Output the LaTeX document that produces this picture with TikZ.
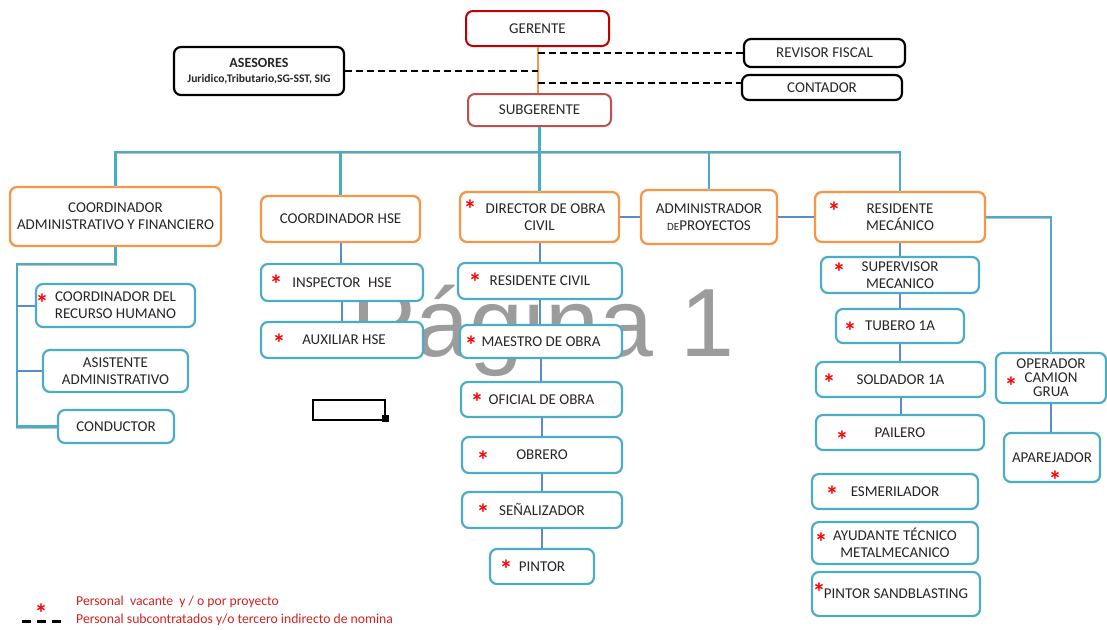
\documentclass[tikz,border=0pt]{standalone}
\usepackage{fontspec}
\setmainfont{Carlito}
\newfontfamily\wmfont{Liberation Sans}
\definecolor{boxorange}{HTML}{F79646}
\definecolor{boxteal}{HTML}{4BACC6}
\definecolor{linkblue}{HTML}{5A8AD0}
\definecolor{headred}{HTML}{C00000}
\definecolor{subred}{HTML}{C0504D}
\definecolor{labeltext}{HTML}{262626}
\definecolor{legendred}{HTML}{D42020}
\definecolor{markgray}{HTML}{9C9C9C}
\begin{document}
\begin{tikzpicture}[x=1pt,y=-1pt,
  basebox/.style={rounded corners=7pt, fill=white, line width=2pt, align=center,
    inner sep=0pt, text=labeltext, font=\fontsize{15}{16.8}\selectfont},
  redbox/.style={basebox, draw=headred},
  subbox/.style={basebox, draw=subred},
  blackbox/.style={basebox, draw=black, line width=2.2pt},
  orangebox/.style={basebox, draw=boxorange, line width=2.3pt},
  tealbox/.style={basebox, draw=boxteal, line width=2.2pt},
  bus/.style={draw=boxteal, line width=2.6pt,
    preaction={draw=black!25, line width=2.6pt, transform canvas={yshift=-0.9pt}}},
  col/.style={draw=linkblue, line width=2pt},
  orgline/.style={draw=boxorange, line width=2pt},
  extern/.style={draw=black, line width=2.2pt, dash pattern=on 7pt off 4pt},
  vac/.style={text=red, font=\fontsize{26}{26}\selectfont\bfseries, inner sep=0pt,
    anchor=base, yshift=-13.7pt},
  legend/.style={text=legendred, font=\fontsize{13.7}{15}\selectfont, inner sep=0pt,
    anchor=base west},
  watermark/.style={text=markgray, font=\wmfont\fontsize{97}{97}\selectfont,
    inner sep=0pt, anchor=base west}
]
\useasboundingbox (0,0) rectangle (1107,629);

% page watermark behind the chart
\node[watermark] (wmk) at (351,356) {Página 1};

% top management
\node[redbox, minimum width=143pt, minimum height=35pt] (ger) at (537.5,28.5) {GERENTE};
\node[subbox, minimum width=143pt, minimum height=32pt] (sub) at (539.5,110) {SUBGERENTE};
\node[blackbox, minimum width=170pt, minimum height=48pt] (ase) at (259,71)
  {{\bfseries\fontsize{14}{15}\selectfont ASESORES}\\[-2pt]
   {\bfseries\fontsize{11.6}{12}\selectfont Juridico,Tributario,SG-SST, SIG}};
\node[blackbox, minimum width=161pt, minimum height=28pt] (rf) at (824.5,53) {REVISOR FISCAL};
\node[blackbox, minimum width=160pt, minimum height=25pt] (ct) at (822,87.5) {CONTADOR};

% second level
\node[orangebox, minimum width=211pt, minimum height=59pt] (caf) at (115.5,216.5)
  {COORDINADOR\\ADMINISTRATIVO Y FINANCIERO};
\node[orangebox, minimum width=159pt, minimum height=46pt] (hse) at (340.5,219) {COORDINADOR HSE};
\node[orangebox, minimum width=159pt, minimum height=50pt] (dir) at (539.5,217)
  {\hspace*{12pt}DIRECTOR DE OBRA\\CIVIL};
\node[orangebox, minimum width=136pt, minimum height=54pt] (adm) at (709,217)
  {ADMINISTRADOR\\{\fontsize{11}{12}\selectfont DE}PROYECTOS};
\node[orangebox, minimum width=170pt, minimum height=50pt] (rm) at (900,217)
  {RESIDENTE\\MECÁNICO};

% administrative branch
\node[tealbox, minimum width=159pt, minimum height=43pt] (crh) at (115.5,305.5)
  {COORDINADOR DEL\\RECURSO HUMANO};
\node[tealbox, minimum width=145pt, minimum height=42pt] (asi) at (115.5,371)
  {ASISTENTE\\ADMINISTRATIVO};
\node[tealbox, minimum width=116pt, minimum height=33pt] (cond) at (116,426.5) {CONDUCTOR};

% HSE branch
\node[tealbox, minimum width=162pt, minimum height=37pt] (insp) at (342,282.5) {INSPECTOR\hspace{0.5em}HSE};
\node[tealbox, minimum width=162pt, minimum height=36pt] (aux) at (342,340) {\hspace*{4pt}AUXILIAR HSE};

% civil works branch
\node[tealbox, minimum width=164pt, minimum height=36pt] (rc) at (540,281) {RESIDENTE CIVIL};
\node[tealbox, minimum width=162pt, minimum height=33pt] (mo) at (541,341.5) {MAESTRO DE OBRA};
\node[tealbox, minimum width=161pt, minimum height=35pt] (of) at (541.5,399.5) {OFICIAL DE OBRA};
\node[tealbox, minimum width=160pt, minimum height=36pt] (ob) at (542,455) {OBRERO};
\node[tealbox, minimum width=160pt, minimum height=36pt] (se) at (542,510) {SEÑALIZADOR};
\node[tealbox, minimum width=104pt, minimum height=35pt] (pin) at (542,566.5) {PINTOR};

% mechanical branch
\node[tealbox, minimum width=158pt, minimum height=36pt] (sup) at (900,275) {SUPERVISOR\\MECANICO};
\node[tealbox, minimum width=128pt, minimum height=34pt] (tub) at (900,326) {TUBERO 1A};
\node[tealbox, minimum width=169pt, minimum height=35pt] (sol) at (900.5,379.5) {SOLDADOR 1A};
\node[tealbox, minimum width=168pt, minimum height=35pt] (pai) at (900,432.5) {PAILERO};
\node[tealbox, minimum width=166pt, minimum height=35pt] (esm) at (895,491.5) {ESMERILADOR};
\node[tealbox, minimum width=166pt, minimum height=42pt] (ayu) at (895,543)
  {AYUDANTE TÉCNICO\\METALMECANICO};
\node[tealbox, minimum width=168pt, minimum height=44pt] (psb) at (896,594) {PINTOR SANDBLASTING};
\node[tealbox, minimum width=110pt, minimum height=50pt,
  font=\fontsize{15}{14}\selectfont] (op) at (1051,378) {OPERADOR\\CAMION\\GRUA};
\node[tealbox, minimum width=96pt, minimum height=49pt] (apa) at (1052,457.5) {APAREJADOR};

% connectors
\coordinate (busy) at (0,152);
\coordinate (lk) at (17,264);
\coordinate (ctin) at ([yshift=4.5pt]ct.west);
\draw[orgline] (ger.south) -- (ger.south |- sub.north);
\draw[extern] (ase.east) -- (ase.east -| ger.south);
\draw[extern] (rf.west -| ger.south) -- (rf.west);
\draw[extern] (ctin -| ger.south) -- (ctin);

\draw[bus] (sub.south) -- (sub.south |- busy);
\draw[bus] (caf.north) -- (caf.north |- busy) -- (rm.north |- busy) -- (rm.north);
\draw[bus] (hse.north) -- (hse.north |- busy);
\draw[bus] (dir.north) -- (dir.north |- busy);
\draw[bus] (adm.north) -- (adm.north |- busy);

\draw[bus] (caf.south) -- (caf.south |- lk) -- (lk) -- (lk |- cond.west) -- (cond.west);
\draw[col] (lk |- crh.west) -- (crh.west);
\draw[col] (lk |- asi.west) -- (asi.west);

\draw[col] (hse.south) -- (hse.south |- insp.north);
\draw[col] (insp.south) -- (aux.north);

\draw[col] (dir.east) -- (adm.west);
\draw[col] (adm.east) -- (rm.west);

\draw[col] (dir.south) -- (dir.south |- rc.north);
\draw[col] (rc.south) -- (rc.south |- mo.north);
\draw[col] (mo.south) -- (mo.south |- of.north);
\draw[col] (of.south) -- (of.south |- ob.north);
\draw[col] (ob.south) -- (ob.south |- se.north);
\draw[col] (se.south) -- (se.south |- pin.north);

\draw[col] (rm.south) -- (rm.south |- sup.north);
\draw[col] (sup.south) -- (sup.south |- tub.north);
\draw[col] (tub.south) -- (tub.south |- sol.north);
\draw[col] (sol.south) -- (sol.south |- pai.north);

\draw[bus] (rm.east) -| (op.north);
\draw[col] (op.south) -- (op.south |- apa.north);

% vacancy marks
\node[vac] (v1) at (470,205) {*};
\node[vac] (v2) at (834,207) {*};
\node[vac] (v3) at (42,299) {*};
\node[vac] (v4) at (276,280) {*};
\node[vac] (v5) at (279,339) {*};
\node[vac] (v6) at (475,278) {*};
\node[vac] (v7) at (471,341) {*};
\node[vac] (v8) at (477,398) {*};
\node[vac] (v9) at (483,456) {*};
\node[vac] (v10) at (483,509) {*};
\node[vac] (v11) at (506,565) {*};
\node[vac] (v12) at (839,268) {*};
\node[vac] (v13) at (850,327) {*};
\node[vac] (v14) at (829,379) {*};
\node[vac] (v15) at (842,436) {*};
\node[vac] (v16) at (1011,382) {*};
\node[vac] (v17) at (1055,476) {*};
\node[vac] (v18) at (832,491) {*};
\node[vac] (v19) at (821,538) {*};
\node[vac] (v20) at (819,588) {*};

% empty frame with handle
\draw[line width=2.6pt] (313,400) rectangle (385,420);
\fill (382,415) rectangle (389,422);

% legend
\node[vac] (lv) at (41,609) {*};
\draw[line width=3pt, dash pattern=on 9pt off 6pt] (22,621) -- (64,621);
\node[legend] (l1) at (76,605) {Personal\ \ vacante\ \ y / o por proyecto};
\node[legend] (l2) at (76,623) {Personal subcontratados y/o tercero indirecto de nomina};
\end{tikzpicture}
\end{document}
